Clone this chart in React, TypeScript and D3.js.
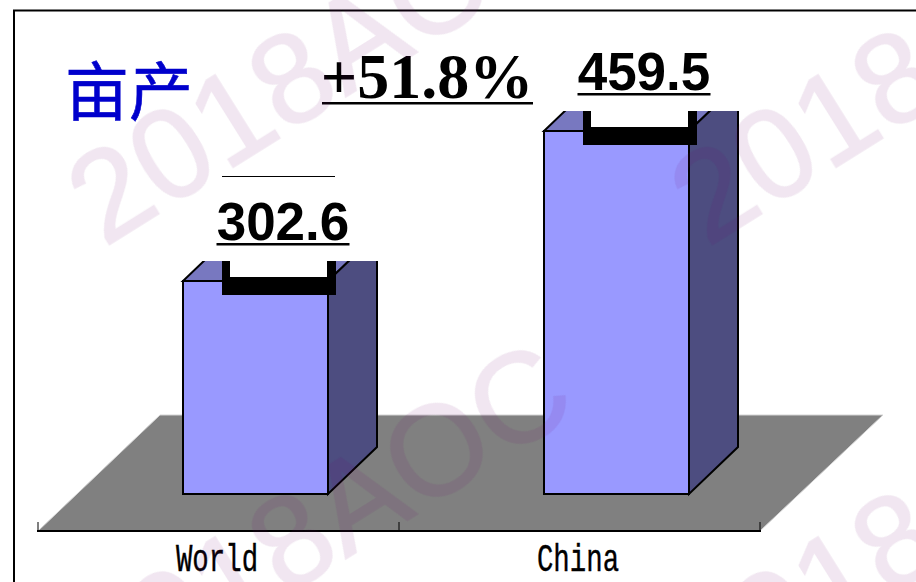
import React from "react";
import * as d3 from "d3";

// Yield per mu, by region
const categories = ["World", "China"];
const yields = [302.6, 459.5];
const valueLabels = ["302.6", "459.5"];
const chartTitle = "亩产";
const growthLabel = "+51.8%";
const stampText = "2018AOC";

const W = 916;
const H = 582;
const BASE_Y = 494;
const DEPTH_X = 49;
const DEPTH_Y = 47;

// The value axis starts well above zero, so bar heights are not proportional to the values
const y = d3.scaleLinear().domain([80.5, 459.5]).range([BASE_Y, 130.5]);
const x = d3.scaleBand<string>().domain(categories).range([38, 760]).padding(0);
const barLeft = (c: string) => Math.round((x(c) as number) + x.bandwidth() * 0.403);
const BAR_W = 145;

const AXIS_Y = 531;
const FLOOR_BACK_Y = 415;
const FLOOR_SHIFT = 122;

const pts = (p: [number, number][]) => d3.line()(p) + "Z";

function Bar({ name, value, label }: { name: string; value: number; label: string }) {
  const l = barLeft(name);
  const r = l + BAR_W;
  const t = Math.round(y(value));
  const cut = t - 20;
  const bx0 = l + 39;
  const bx1 = r + 8;
  const bottom = t + 14;
  const inner = t - 4;
  return (
    <g>
      <path
        d={pts([[l, t], [r, t], [r + DEPTH_X, t - DEPTH_Y], [l + DEPTH_X, t - DEPTH_Y]])}
        fill="#7878c0"
        stroke="#000"
        strokeWidth={2}
      />
      <path
        d={pts([[r, t], [r + DEPTH_X, t - DEPTH_Y], [r + DEPTH_X, BASE_Y - DEPTH_Y], [r, BASE_Y]])}
        fill="#4d4d80"
        stroke="#000"
        strokeWidth={2}
      />
      <rect x={l} y={t} width={BAR_W} height={BASE_Y - t} fill="#9999ff" stroke="#000" strokeWidth={2} />
      {/* label box sitting over the top of the bar: white body with a heavy lower frame */}
      <rect x={l - 3} y={cut - 60} width={BAR_W + DEPTH_X + 6} height={60} fill="#fff" />
      <rect x={bx0} y={cut} width={bx1 - bx0} height={bottom - cut} fill="#000" />
      <rect x={bx0 + 8} y={cut - 1} width={bx1 - bx0 - 17} height={inner - cut + 1} fill="#fff" />
      <text
        x={l + 100}
        y={t - 41}
        textAnchor="middle"
        fontFamily="'Liberation Sans', Arial, sans-serif"
        fontWeight="bold"
        fontSize={53}
        fill="#000"
      >
        {label}
      </text>
      <rect x={l + 33.5} y={t - 38} width={133} height={2.5} fill="#000" />
    </g>
  );
}

export default function App() {
  const ticks = [38, ...categories.map((c) => (x(c) as number) + x.bandwidth())];
  const stampOrigins = d3.cross([104, 707], [248, 710]);
  return (
    <svg
      width={W}
      height={H}
      viewBox={`0 0 ${W} ${H}`}
      style={{ position: "absolute", left: 0, top: 0, display: "block" }}
    >
      <rect width={W} height={H} fill="#fff" />
      <path d={`M14,${H + 2}V10.5H${W + 2}`} fill="none" stroke="#000" strokeWidth={2} />

      {/* chart floor */}
      <path
        d={pts([
          [38, AXIS_Y],
          [38 + FLOOR_SHIFT, FLOOR_BACK_Y],
          [760 + FLOOR_SHIFT + 1, FLOOR_BACK_Y],
          [760, AXIS_Y],
        ])}
        fill="#808080"
        stroke="#d4d4d4"
        strokeWidth={1}
      />

      {categories.map((c, i) => (
        <Bar key={c} name={c} value={yields[i]} label={valueLabels[i]} />
      ))}

      {/* category axis */}
      <line x1={37} x2={761} y1={AXIS_Y} y2={AXIS_Y} stroke="#000" strokeWidth={2} />
      {ticks.map((t) => (
        <line key={t} x1={t} x2={t} y1={AXIS_Y - 9} y2={AXIS_Y} stroke="#000" strokeWidth={1} />
      ))}
      {categories.map((c) => (
        <text
          key={c}
          transform={`translate(${(x(c) as number) + x.bandwidth() / 2 - 1.5},571) scale(0.72,1)`}
          textAnchor="middle"
          fontFamily="'Liberation Mono', monospace"
          fontSize={38}
          stroke="#000"
          strokeWidth={0.4}
          fill="#000"
        >
          {c}
        </text>
      ))}

      <text x={65} y={115} fontFamily="'Noto Sans CJK SC', sans-serif" fontSize={64} fill="#0000cc" stroke="#0000cc" strokeWidth={0.6}>
        {chartTitle}
      </text>
      <text
        x={427}
        y={98}
        textAnchor="middle"
        fontFamily="'Liberation Serif', serif"
        fontWeight="bold"
        fontSize={64}
        fill="#000"
      >
        {growthLabel}
      </text>
      <rect x={322} y={102} width={211} height={2.5} fill="#000" />
      <line x1={222} x2={335} y1={176.5} y2={176.5} stroke="#000" strokeWidth={1} />

      {/* repeated stamp across the whole sheet, translucent so the marks below show through */}
      <g opacity={0.1}>
        {stampOrigins.map(([sx, sy]) => (
          <text
            key={`${sx}-${sy}`}
            transform={`translate(${sx},${sy}) rotate(-32)`}
            fontFamily="'Liberation Sans', Arial, sans-serif"
            fontSize={128}
            fill="#700070"
            stroke="#700070"
            strokeWidth={1.5}
          >
            {stampText}
          </text>
        ))}
      </g>
    </svg>
  );
}
